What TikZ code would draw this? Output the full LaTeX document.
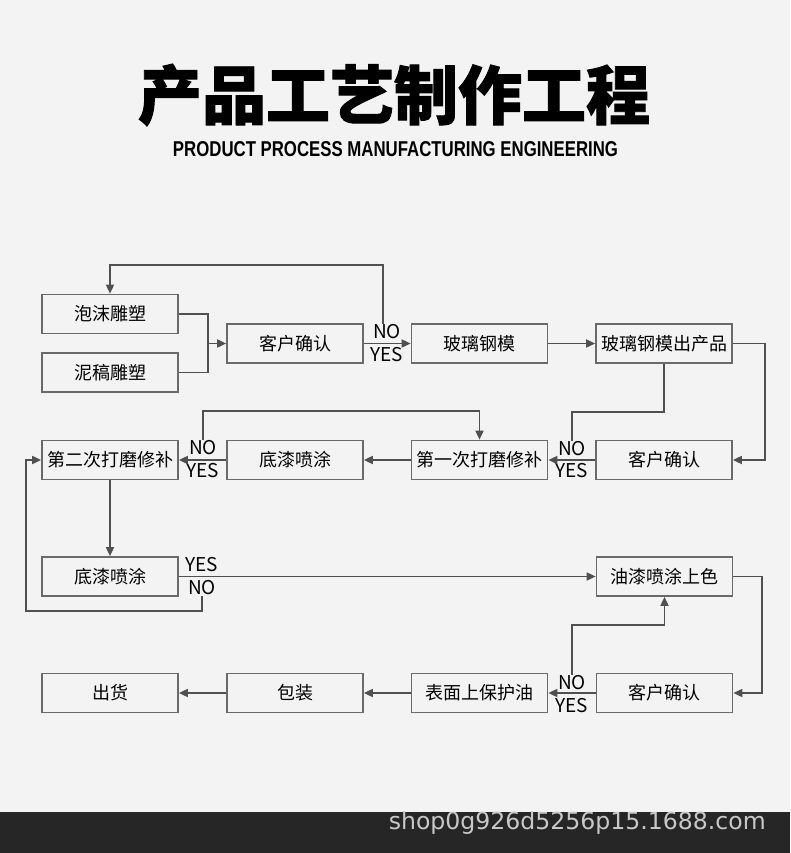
\documentclass[tikz,border=0pt]{standalone}
\usepackage{fontspec}
\usepackage{graphicx}
\usetikzlibrary{arrows.meta}
\newfontfamily\cjk{Noto Sans CJK SC}
\newfontfamily\cjkt{Noto Sans CJK SC}[FakeBold=1.5]
\newfontfamily\subfont{Liberation Sans}
\newfontfamily\wmfont{DejaVu Sans}
\definecolor{bg}{HTML}{F3F3F3}
\definecolor{bar}{HTML}{262626}
\definecolor{boxline}{HTML}{6A6A6A}
\definecolor{conn}{HTML}{505050}
\definecolor{wm}{HTML}{C8C8C8}
\tikzset{
  box/.style={draw=boxline, line width=1.7pt, minimum width=136pt, minimum height=39pt, inner sep=0pt, font=\cjk\fontsize{18}{20}\selectfont, text=black},
  lbl/.style={inner sep=1pt, font=\cjk\fontsize{19}{21}\selectfont, text=black},
  conline/.style={draw=conn, line width=1.7pt},
  arr/.style={conline, -{Triangle[length=9pt,width=8pt]}}
}
\begin{document}
\begin{tikzpicture}[x=1pt,y=-1pt]
\useasboundingbox (0,0) rectangle (790,853);
\fill[bg] (0,0) rectangle (790,853);
\fill[bar] (0,812) rectangle (790,853);
\node[inner sep=0pt, anchor=east, text=wm] (wmk) at (766,823) {\resizebox{377pt}{!}{\wmfont shop0g926d5256p15.1688.com}};
% title
\node[inner sep=0pt] (title) at (394,95) {\cjkt\bfseries\fontsize{64}{70}\selectfont 产品工艺制作工程};
\node[inner sep=0pt] (sub) at (395.5,149) {\resizebox{445pt}{15pt}{\subfont\bfseries PRODUCT PROCESS MANUFACTURING ENGINEERING}};
% boxes
\node[box] (foam) at (110,314) {泡沫雕塑};
\node[box] (clay) at (110,372.5) {泥稿雕塑};
\node[box] (cc1) at (295,343.5) {客户确认};
\node[box] (frp) at (479.5,343.5) {玻璃钢模};
\node[box] (frpp) at (664,343.5) {玻璃钢模出产品};
\node[box] (g1) at (479.5,460) {第一次打磨修补};
\node[box] (cc2) at (664,460) {客户确认};
\node[box] (p1) at (295,460) {底漆喷涂};
\node[box] (g2) at (110,460) {第二次打磨修补};
\node[box] (p2) at (110,576.5) {底漆喷涂};
\node[box] (oil) at (664.5,576.5) {油漆喷涂上色};
\node[box] (cc3) at (664.5,693) {客户确认};
\node[box] (prot) at (479.5,693) {表面上保护油};
\node[box] (pack) at (295,693) {包装};
\node[box] (ship) at (110,693) {出货};
% labels
\node[lbl] (no1) at (387,332) {NO};
\node[lbl] (yes1) at (387,355) {YES};
\node[lbl] (no2) at (572,449) {NO};
\node[lbl] (yes2) at (572,471) {YES};
\node[lbl] (no3) at (203,448) {NO};
\node[lbl] (yes3) at (203,471) {YES};
\node[lbl] (yes4) at (202,565) {YES};
\node[lbl] (no4) at (202,588) {NO};
\node[lbl] (no5) at (572,683) {NO};
\node[lbl] (yes5) at (572,706) {YES};
% coordinates
\coordinate (m1) at (208,343.5);
\coordinate (t1) at (110,265);
\coordinate (c6) at (765,343.5);
\coordinate (c7) at (572,412);
\coordinate (c11) at (479.5,411);
\coordinate (c14) at (26,611);
\coordinate (c15) at (762,576.5);
\coordinate (c17) at (664.5,625);
% connectors
\draw[conline] (foam.east) -| (m1);
\draw[conline] (clay.east) -| (m1);
\draw[arr] (m1) -- (cc1.west);
\draw[arr] (cc1.east) -- (frp.west);
\draw[arr] ([xshift=-4pt]no1.north) |- (t1) -- (foam.north);
\draw[arr] (frp.east) -- (frpp.west);
\draw[arr] (frpp.east) -- (c6) |- (cc2.east);
\draw[conline] (frpp.south) |- (c7) -- (no2.north);
\draw[arr] (cc2.west) -- (g1.east);
\draw[arr] (g1.west) -- (p1.east);
\draw[arr] (p1.west) -- (g2.east);
\draw[arr] (no3.north) |- (c11) -- (g1.north);
\draw[arr] (g2.south) -- (p2.north);
\draw[arr] (p2.east) -- (oil.west);
\draw[arr] (no4.south) |- (c14) |- (g2.west);
\draw[arr] (oil.east) -- (c15) |- (cc3.east);
\draw[arr] (cc3.west) -- (prot.east);
\draw[arr] (no5.north) |- (c17) -- (oil.south);
\draw[arr] (prot.west) -- (pack.east);
\draw[arr] (pack.west) -- (ship.east);
\end{tikzpicture}
\end{document}
